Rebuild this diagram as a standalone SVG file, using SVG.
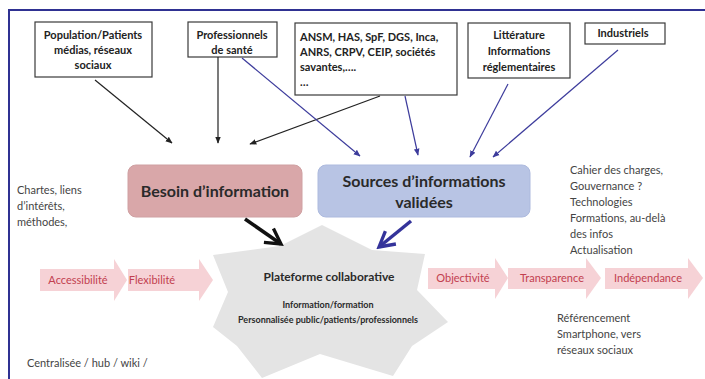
<svg xmlns="http://www.w3.org/2000/svg" width="705" height="379" viewBox="0 0 705 379">
<defs>
<style>
.src rect{fill:#fff;stroke:#3a3a3a;stroke-width:1.2}
.bt{font-family:Lato,"Open Sans",sans-serif;font-weight:bold;font-size:11px;fill:#222;text-anchor:middle}
.btl{font-family:Lato,"Open Sans",sans-serif;font-weight:bold;font-size:11px;fill:#222}
.note{font-family:Lato,"Open Sans",sans-serif;font-size:11px;fill:#444}
.chev polygon{fill:#f6d2d6}
.chev text{font-family:Lato,"Open Sans",sans-serif;font-size:11px;fill:#c2404f;text-anchor:middle}
.big{font-family:Lato,"Open Sans",sans-serif;font-weight:bold;font-size:16px;fill:#2a2a2a;text-anchor:middle}
.k{stroke:#222;stroke-width:1.2;fill:none}
.b{stroke:#3d3c9c;stroke-width:1.2;fill:none}
</style>
<marker id="ak" viewBox="0 0 10 10" refX="9" refY="5" markerWidth="7" markerHeight="7" markerUnits="userSpaceOnUse" orient="auto"><path d="M0,1 L10,5 L0,9 z" fill="#222"/></marker>
<marker id="ab" viewBox="0 0 10 10" refX="9" refY="5" markerWidth="7" markerHeight="7" markerUnits="userSpaceOnUse" orient="auto"><path d="M0,1 L10,5 L0,9 z" fill="#3d3c9c"/></marker>
<marker id="vk" viewBox="0 0 12 12" refX="10" refY="6" markerWidth="20" markerHeight="20" markerUnits="userSpaceOnUse" orient="auto"><path d="M1,1 L10,6 L1,11" fill="none" stroke="#111" stroke-width="2"/></marker>
<marker id="vb" viewBox="0 0 12 12" refX="10" refY="6" markerWidth="20" markerHeight="20" markerUnits="userSpaceOnUse" orient="auto"><path d="M1,1 L10,6 L1,11" fill="none" stroke="#34339a" stroke-width="2"/></marker>
</defs>
<rect x="0" y="0" width="705" height="379" fill="#fff"/>
<path d="M9,379 L9,10 L705,10" fill="none" stroke="#2f3192" stroke-width="2"/>

<g id="population" class="src">
<rect x="35" y="22" width="117" height="55"/>
<text class="bt" x="93" y="39">Population/Patients</text>
<text class="bt" x="93" y="54">médias, réseaux</text>
<text class="bt" x="93" y="69">sociaux</text>
</g>
<g id="professionnels" class="src">
<rect x="188" y="22" width="89" height="35"/>
<text class="bt" x="232" y="39">Professionnels</text>
<text class="bt" x="232" y="54">de santé</text>
</g>
<g id="ansm" class="src">
<rect x="295" y="23" width="162" height="72"/>
<text class="btl" x="300" y="41">ANSM, HAS, SpF, DGS, Inca,</text>
<text class="btl" x="300" y="56">ANRS, CRPV, CEIP, sociétés</text>
<text class="btl" x="300" y="71">savantes,….</text>
<text class="btl" x="300" y="86">…</text>
</g>
<g id="litterature" class="src">
<rect x="468" y="23" width="102" height="55"/>
<text class="bt" x="519" y="39">Littérature</text>
<text class="bt" x="519" y="55">Informations</text>
<text class="bt" x="519" y="71">réglementaires</text>
</g>
<g id="industriels" class="src">
<rect x="585" y="23" width="80" height="21"/>
<text class="bt" x="623" y="37">Industriels</text>
</g>

<g id="besoin">
<rect x="128" y="165" width="174" height="52" rx="8" fill="#d9a7a9" stroke="#cfa0a2"/>
<text class="big" x="215" y="197">Besoin d’information</text>
</g>
<g id="sources">
<rect x="318" y="165" width="212" height="52" rx="8" fill="#b8c4e4" stroke="#adbade"/>
<text class="big" x="424" y="187">Sources d’informations</text>
<text class="big" x="424" y="208">validées</text>
</g>

<g id="plateforme">
<polygon points="213,255 280,246 322,225 372,250 425,254 417,290 448,322 412,346 393,376 320,354 262,378 237,346 213,327 228,292" fill="#e4e4e4"/>
<text class="big" x="329" y="281" style="font-size:12px">Plateforme collaborative</text>
<text class="big" x="328" y="308" style="font-size:9px">Information/formation</text>
<text class="big" x="328" y="323" style="font-size:9px">Personnalisée public/patients/professionnels</text>
</g>

<g id="chevrons" class="chev">
<g id="accessibilite"><polygon points="40,269 114,269 114,259 127,280 114,301 114,291 40,291"/><text x="78" y="284">Accessibilité</text></g>
<g id="flexibilite"><polygon points="128,269 199,269 199,259 213,280 199,301 199,291 128,291"/><text x="152" y="284">Flexibilité</text></g>
<g id="objectivite"><polygon points="428,268 495,268 495,258 508,278 495,299 495,289 428,289"/><text x="463" y="282">Objectivité</text></g>
<g id="transparence"><polygon points="508,268 586,268 586,258 601,278 586,299 586,289 508,289"/><text x="552" y="282">Transparence</text></g>
<g id="independance"><polygon points="605,268 688,268 688,258 703,278 688,299 688,289 605,289"/><text x="648" y="282">Indépendance</text></g>
</g>

<g id="notes">
<text class="note" x="17" y="194">Chartes, liens</text>
<text class="note" x="17" y="210">d’intérêts,</text>
<text class="note" x="17" y="226">méthodes,</text>
<text class="note" x="570" y="174">Cahier des charges,</text>
<text class="note" x="570" y="190">Gouvernance ?</text>
<text class="note" x="570" y="206">Technologies</text>
<text class="note" x="570" y="222">Formations, au-delà</text>
<text class="note" x="570" y="238">des infos</text>
<text class="note" x="570" y="254">Actualisation</text>
<text class="note" x="557" y="322">Référencement</text>
<text class="note" x="557" y="338">Smartphone, vers</text>
<text class="note" x="557" y="354">réseaux sociaux</text>
<text class="note" x="27" y="367">Centralisée / hub / wiki /</text>
</g>

<g id="connectors">
<line class="k" x1="95" y1="80" x2="172" y2="143" marker-end="url(#ak)"/>
<line class="k" x1="218" y1="57" x2="218" y2="143" marker-end="url(#ak)"/>
<line class="k" x1="380" y1="96" x2="250" y2="144" marker-end="url(#ak)"/>
<line class="b" x1="242" y1="58" x2="360" y2="156" marker-end="url(#ab)"/>
<line class="b" x1="405" y1="96" x2="418" y2="155" marker-end="url(#ab)"/>
<line class="b" x1="508" y1="84" x2="470" y2="157" marker-end="url(#ab)"/>
<line class="b" x1="618" y1="50" x2="493" y2="157" marker-end="url(#ab)"/>
<line x1="245" y1="219" x2="281" y2="244" stroke="#111" stroke-width="3.5" marker-end="url(#vk)"/>
<line x1="411" y1="221" x2="379" y2="247" stroke="#34339a" stroke-width="3.5" marker-end="url(#vb)"/>
</g>
</svg>
